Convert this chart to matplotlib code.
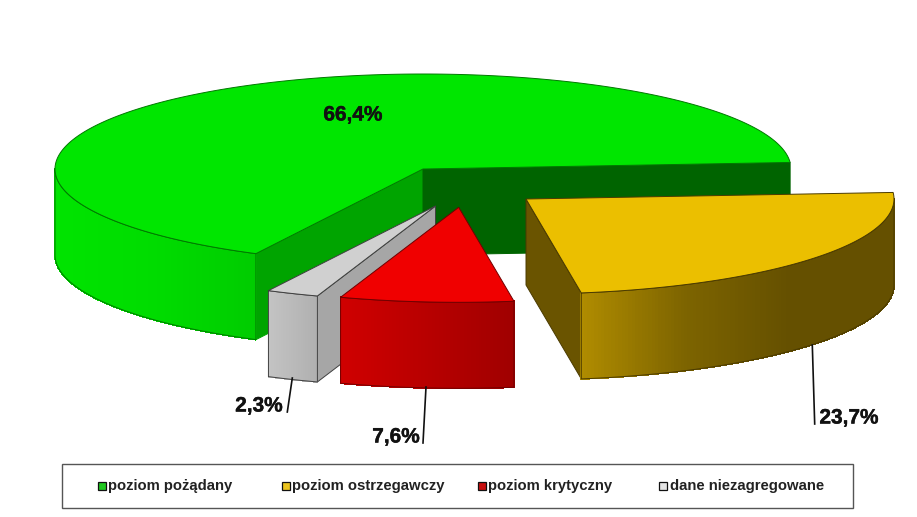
import numpy as np
import matplotlib
matplotlib.use("Agg")
import matplotlib.pyplot as plt
import matplotlib.patheffects as pe
from matplotlib.colors import to_rgb, LinearSegmentedColormap

plt.rcParams['font.family'] = ['Liberation Sans', 'DejaVu Sans']

# data, clockwise from the start angle
categories = ["poziom pożądany", "poziom ostrzegawczy", "poziom krytyczny", "dane niezagregowane"]
shares = [66.4, 23.7, 7.6, 2.3]
labels = ["66,4%", "23,7%", "7,6%", "2,3%"]

# pie geometry, in pixels
start = 243.0
rx, ry, depth = 368.0, 95.0, 86.0
apexes = [(423, 169), (526, 199), (458.7, 207.3), (435.5, 206)]

tops = ["#00e600", "#ebbf00", "#f00000", "#d0d0d0"]
edges = ["#007800", "#4a3a00", "#700000", "#404040"]
walls = [["#00e400", "#00dc00", "#00cc00"],
         ["#b08c00", "#7d6400", "#655000", "#655000"],
         ["#d00000", "#b80000", "#a00000"],
         ["#c4c4c4", "#b0b0b0"]]
# flat cut faces: colour at the high angle side and at the low angle side
cut_high = ["#00a400", None, None, "#a6a6a6"]
cut_low = ["#006400", "#6a5400", None, None]

label_pos = [(353, 115), (849, 418), (396, 437), (259, 406)]
leaders = [None, ((812.3, 345), (814.7, 424)), ((426, 387), (423, 443)), ((292.3, 378), (287.3, 412))]

legend_marks = [98, 282, 478, 659]
legend_fill = ["#1fc81f", "#ebc41f", "#c81010", "#e4e4e4"]

fig = plt.figure(figsize=(9.17, 5.17), dpi=100)
ax = fig.add_axes([0, 0, 1, 1])
ax.set_xlim(0, 917)
ax.set_ylim(517, 0)
ax.axis("off")

heavy = [pe.withStroke(linewidth=0.3, foreground="#111111")]


def rim(cx, cy, t0, t1, n):
    t = np.radians(np.linspace(t0, t1, n))
    return cx + rx * np.cos(t), cy - ry * np.sin(t)


def draw_slice(i, t1, t0, order):
    # t1 is the higher angle; the slice runs clockwise from it down to t0
    cx, cy = apexes[i]
    ec = edges[i]
    cmap = LinearSegmentedColormap.from_list("w", [to_rgb(c) for c in walls[i]])

    # flat faces from the centre out to the rim
    for ang, col in ((t1, cut_high[i]), (t0, cut_low[i])):
        if col is None:
            continue
        x, y = rim(cx, cy, ang, ang, 1)
        ax.fill([cx, x[0], x[0], cx], [cy, y[0], y[0] + depth, cy + depth],
                fc=col, ec=col if i == 0 else ec, lw=0.7, zorder=order)

    # outer wall, only the part facing the viewer (sin < 0)
    if t1 > 180:
        lo, hi = max(t0, 180), t1
    elif t1 <= 0:
        lo, hi = t0, t1
    else:
        lo, hi = t0, 0
    if hi > lo:
        n = 150
        xs, ys = rim(cx, cy, lo, hi, n)
        xmin, xmax = xs.min(), xs.max()
        for k in range(n - 1):
            f = ((xs[k] + xs[k + 1]) / 2 - xmin) / (xmax - xmin)
            c = cmap(f)
            ax.fill([xs[k], xs[k + 1], xs[k + 1], xs[k]],
                    [ys[k], ys[k + 1], ys[k + 1] + depth, ys[k] + depth],
                    fc=c, ec=c, lw=0.6, antialiased=False, zorder=order)
        ax.plot(np.r_[xs, xs[::-1], xs[0]], np.r_[ys, ys[::-1] + depth, ys[0]],
                color=ec, lw=0.7, zorder=order + 0.1)

    # top
    xs, ys = rim(cx, cy, t0, t1, 240)
    ax.fill(np.r_[cx, xs], np.r_[cy, ys], fc=tops[i], ec=ec, lw=0.7, zorder=order + 0.2)


angle = start
# back to front: green first, then grey, red, and yellow last
draw_order = {0: 1, 1: 7, 2: 5, 3: 3}
for i, s in enumerate(shares):
    next_angle = angle - s * 3.6
    draw_slice(i, angle, next_angle, draw_order[i])
    angle = next_angle

for pos, txt in zip(label_pos, labels):
    ax.text(pos[0], pos[1], txt, fontsize=15, fontweight="bold", color="#111111",
            ha="center", va="center", zorder=20, path_effects=heavy)
for seg in leaders:
    if seg is not None:
        ax.plot([seg[0][0], seg[1][0]], [seg[0][1], seg[1][1]], color="#111111", lw=1.2, zorder=20)

# legend
ax.add_patch(plt.Rectangle((62, 464), 791, 44, fc="white", ec="#555555", lw=1.0, zorder=15))
for mx, c, name in zip(legend_marks, legend_fill, categories):
    ax.add_patch(plt.Rectangle((mx, 482), 8, 8, fc=c, ec="#111111", lw=0.9, zorder=16))
    ax.text(mx + 10.5, 486, name, fontsize=10.7, fontweight="bold", color="#222222",
            ha="left", va="center", zorder=16)

fig.savefig("out.png", dpi=100, facecolor="white")
